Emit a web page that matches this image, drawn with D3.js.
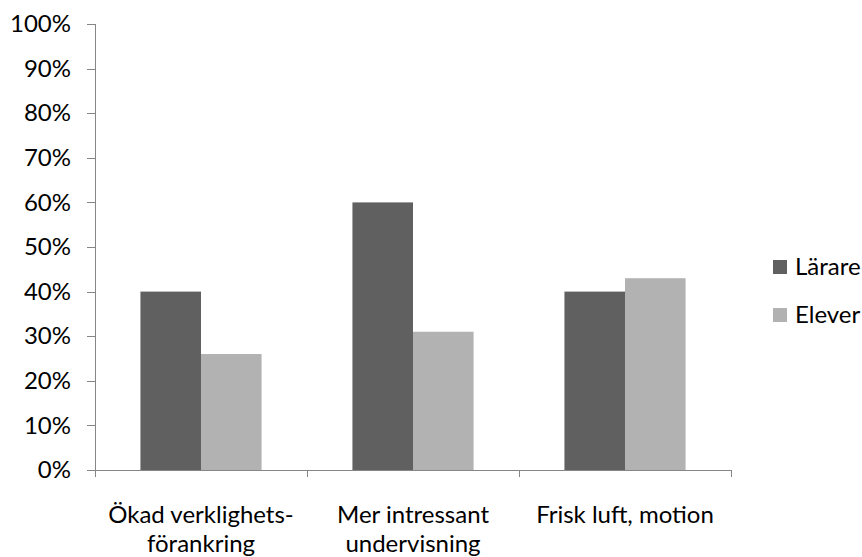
<!DOCTYPE html>
<html lang="sv">
<head>
<meta charset="utf-8">
<script src="https://cdn.jsdelivr.net/npm/d3@7"></script>
<style>
  body { margin: 0; background: #fff; }
  text { font-family: Lato, "Open Sans", sans-serif; fill: #000; }
  .axis path, .axis line { stroke: #868686; shape-rendering: crispEdges; }
</style>
</head>
<body>
<script>
var categories = [["Ökad verklighets-", "förankring"], ["Mer intressant", "undervisning"], ["Frisk luft, motion"]];
var seriesNames = ["Lärare", "Elever"];
var lararValues = [0.40, 0.60, 0.40];
var eleverValues = [0.26, 0.31, 0.43];
var colors = ["#606060", "#b2b2b2"];

var width = 862, height = 557;
var margin = {left: 95, right: 131, top: 24, bottom: 87};

var svg = d3.select("body").append("svg")
  .attr("width", width).attr("height", height);

var x = d3.scaleBand()
  .domain(d3.range(categories.length))
  .range([margin.left, width - margin.right]);

var x1 = d3.scaleBand()
  .domain(d3.range(seriesNames.length))
  .range([0, x.bandwidth()])
  .paddingInner(0)
  .paddingOuter(0.75);

var y = d3.scaleLinear().domain([0, 1]).range([height - margin.bottom, margin.top]);

// y axis
var yAxis = svg.append("g")
  .attr("class", "axis")
  .attr("transform", "translate(" + margin.left + ",0)")
  .call(d3.axisLeft(y).ticks(10).tickFormat(d3.format(".0%")).tickSizeOuter(0).tickSize(8).tickPadding(16));
yAxis.selectAll("text").style("font-size", "24px").attr("fill", "#000");

// bars
var series = [lararValues, eleverValues];
series.forEach(function(vals, s) {
  svg.append("g").selectAll("rect")
    .data(vals)
    .enter().append("rect")
    .attr("x", function(d, i) { return x(i) + x1(s); })
    .attr("width", x1.bandwidth())
    .attr("y", function(d) { return y(d); })
    .attr("height", function(d) { return y(0) - y(d); })
    .attr("fill", colors[s]);
});

// x axis
var xg = svg.append("g").attr("class", "axis");
xg.append("line")
  .attr("x1", margin.left).attr("x2", width - margin.right)
  .attr("y1", y(0)).attr("y2", y(0));
xg.selectAll(".tick")
  .data(d3.range(categories.length + 1))
  .enter().append("line")
  .attr("x1", function(i) { return margin.left + i * x.step(); })
  .attr("x2", function(i) { return margin.left + i * x.step(); })
  .attr("y1", y(0)).attr("y2", y(0) + 7);

svg.append("g").selectAll("text")
  .data(categories)
  .enter().append("text")
  .attr("text-anchor", "middle")
  .style("font-size", "24px")
  .attr("transform", function(d, i) { return "translate(" + (x(i) + x.bandwidth() / 2) + "," + (y(0) + 53) + ")"; })
  .selectAll("tspan")
  .data(function(d) { return d; })
  .enter().append("tspan")
  .attr("x", 0)
  .attr("dy", function(d, j) { return j === 0 ? 0 : 29; })
  .text(function(d) { return d; });

// legend
var legend = svg.append("g").attr("transform", "translate(773,267)");
seriesNames.forEach(function(name, s) {
  var g = legend.append("g").attr("transform", "translate(0," + (s * 48) + ")");
  g.append("rect").attr("width", 14).attr("height", 14).attr("y", -7).attr("fill", colors[s]);
  g.append("text").attr("x", 22).attr("dy", "0.35em").style("font-size", "24px").text(name);
});
</script>
</body>
</html>
